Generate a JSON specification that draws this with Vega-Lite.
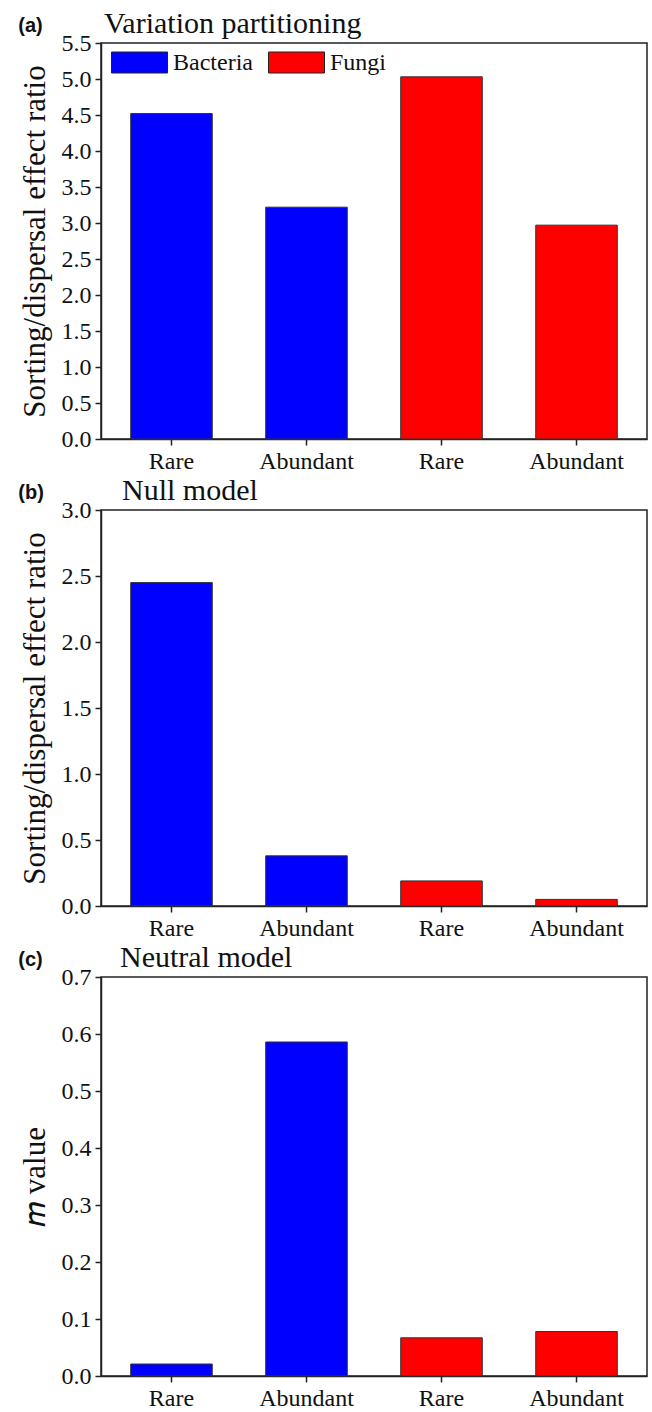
{
  "$schema": "https://vega.github.io/schema/vega-lite/v6.json",
  "background": "white",
  "padding": {"left": 18, "top": 8, "right": 2, "bottom": 0},
  "spacing": 1,
  "datasets": {
    "ratios": [
      {"panel": "a", "group": "Bacteria|Rare", "taxon": "Bacteria", "value": 4.52},
      {"panel": "a", "group": "Bacteria|Abundant", "taxon": "Bacteria", "value": 3.22},
      {"panel": "a", "group": "Fungi|Rare", "taxon": "Fungi", "value": 5.03},
      {"panel": "a", "group": "Fungi|Abundant", "taxon": "Fungi", "value": 2.97},
      {"panel": "b", "group": "Bacteria|Rare", "taxon": "Bacteria", "value": 2.45},
      {"panel": "b", "group": "Bacteria|Abundant", "taxon": "Bacteria", "value": 0.38},
      {"panel": "b", "group": "Fungi|Rare", "taxon": "Fungi", "value": 0.19},
      {"panel": "b", "group": "Fungi|Abundant", "taxon": "Fungi", "value": 0.05},
      {"panel": "c", "group": "Bacteria|Rare", "taxon": "Bacteria", "value": 0.021},
      {"panel": "c", "group": "Bacteria|Abundant", "taxon": "Bacteria", "value": 0.586},
      {"panel": "c", "group": "Fungi|Rare", "taxon": "Fungi", "value": 0.067},
      {"panel": "c", "group": "Fungi|Abundant", "taxon": "Fungi", "value": 0.078}
    ]
  },
  "config": {
    "font": "Liberation Serif",
    "view": {"stroke": "#222", "strokeWidth": 1.5},
    "axis": {
      "grid": false,
      "labelFont": "Liberation Serif",
      "labelFontSize": 24,
      "labelColor": "#111",
      "labelPadding": 4,
      "titleFont": "Liberation Serif",
      "titleFontSize": 31,
      "titleFontWeight": "normal",
      "titleColor": "#111",
      "titlePadding": 10,
      "domainColor": "#222",
      "domainWidth": 1.5,
      "tickColor": "#222",
      "tickWidth": 1.5,
      "tickSize": 6
    },
    "bar": {"stroke": "#333", "strokeWidth": 1}
  },
  "vconcat": [
    {
      "title": {"text": "(a)", "anchor": "start", "frame": "bounds", "font": "Liberation Sans", "fontWeight": "bold", "fontSize": 20, "color": "#111", "offset": 0, "dy": 28},
      "vconcat": [
        {
          "width": 546,
          "height": 396,
          "title": {"text": "Variation partitioning", "anchor": "start", "frame": "group", "dx": 3, "font": "Liberation Serif", "fontSize": 30, "fontWeight": "normal", "color": "#111", "offset": -8},
          "data": {"name": "ratios"},
          "transform": [{"filter": "datum.panel == 'a'"}],
          "mark": {"type": "bar"},
          "encoding": {
            "x": {"field": "group", "type": "nominal", "sort": null,
                  "scale": {"paddingInner": 0.396, "paddingOuter": 0.22},
                  "axis": {"title": null, "labelAngle": 0, "labelFont": "Liberation Serif", "labelFontSize": 24,
                           "labelExpr": "split(datum.value, '|')[1]"}},
            "y": {"field": "value", "type": "quantitative",
                  "scale": {"domain": [0, 5.5], "nice": false},
                  "axis": {"title": "Sorting/dispersal effect ratio", "format": ".1f",
                           "labelFont": "Liberation Serif", "labelFontSize": 24,
                           "titleFont": "Liberation Serif", "titleFontSize": 31,
                           "values": [0, 0.5, 1, 1.5, 2, 2.5, 3, 3.5, 4, 4.5, 5, 5.5]}},
            "color": {"field": "taxon", "type": "nominal",
                      "scale": {"domain": ["Bacteria", "Fungi"], "range": ["#0000FF", "#FF0000"]},
                      "legend": {"orient": "none", "legendX": 10, "legendY": -9, "direction": "horizontal", "title": null,
                                 "symbolType": "M-1,-0.375H1V0.375H-1Z", "symbolSize": 3136,
                                 "symbolStrokeColor": "#222", "symbolStrokeWidth": 1, "symbolOpacity": 1,
                                 "labelFont": "Liberation Serif", "labelFontSize": 24, "labelColor": "#111",
                                 "labelOffset": 5, "columnPadding": 13}}
          }
        }
      ]
    },
    {
      "title": {"text": "(b)", "anchor": "start", "frame": "bounds", "font": "Liberation Sans", "fontWeight": "bold", "fontSize": 20, "color": "#111", "offset": 0, "dy": 28},
      "vconcat": [
        {
          "width": 546,
          "height": 396,
          "title": {"text": "Null model", "anchor": "start", "frame": "group", "dx": 21, "font": "Liberation Serif", "fontSize": 30, "fontWeight": "normal", "color": "#111", "offset": -8},
          "data": {"name": "ratios"},
          "transform": [{"filter": "datum.panel == 'b'"}],
          "mark": {"type": "bar"},
          "encoding": {
            "x": {"field": "group", "type": "nominal", "sort": null,
                  "scale": {"paddingInner": 0.396, "paddingOuter": 0.22},
                  "axis": {"title": null, "labelAngle": 0, "labelFont": "Liberation Serif", "labelFontSize": 24,
                           "labelExpr": "split(datum.value, '|')[1]"}},
            "y": {"field": "value", "type": "quantitative",
                  "scale": {"domain": [0, 3], "nice": false},
                  "axis": {"title": "Sorting/dispersal effect ratio", "format": ".1f",
                           "labelFont": "Liberation Serif", "labelFontSize": 24,
                           "titleFont": "Liberation Serif", "titleFontSize": 31,
                           "values": [0, 0.5, 1, 1.5, 2, 2.5, 3]}},
            "color": {"field": "taxon", "type": "nominal",
                      "scale": {"domain": ["Bacteria", "Fungi"], "range": ["#0000FF", "#FF0000"]},
                      "legend": null}
          }
        }
      ]
    },
    {
      "title": {"text": "(c)", "anchor": "start", "frame": "bounds", "font": "Liberation Sans", "fontWeight": "bold", "fontSize": 20, "color": "#111", "offset": 0, "dy": 28},
      "vconcat": [
        {
          "width": 546,
          "height": 399,
          "title": {"text": "Neutral model", "anchor": "start", "frame": "group", "dx": 19, "font": "Liberation Serif", "fontSize": 30, "fontWeight": "normal", "color": "#111", "offset": -8},
          "data": {"name": "ratios"},
          "transform": [{"filter": "datum.panel == 'c'"}],
          "mark": {"type": "bar"},
          "encoding": {
            "x": {"field": "group", "type": "nominal", "sort": null,
                  "scale": {"paddingInner": 0.396, "paddingOuter": 0.22},
                  "axis": {"title": null, "labelAngle": 0, "labelFont": "Liberation Serif", "labelFontSize": 24,
                           "labelExpr": "split(datum.value, '|')[1]"}},
            "y": {"field": "value", "type": "quantitative",
                  "scale": {"domain": [0, 0.7], "nice": false},
                  "axis": {"title": "𝑚 value", "format": ".1f",
                           "labelFont": "Liberation Serif", "labelFontSize": 24,
                           "titleFont": "Liberation Serif", "titleFontSize": 31,
                           "values": [0, 0.1, 0.2, 0.3, 0.4, 0.5, 0.6, 0.7]}},
            "color": {"field": "taxon", "type": "nominal",
                      "scale": {"domain": ["Bacteria", "Fungi"], "range": ["#0000FF", "#FF0000"]},
                      "legend": null}
          }
        }
      ]
    }
  ]
}
